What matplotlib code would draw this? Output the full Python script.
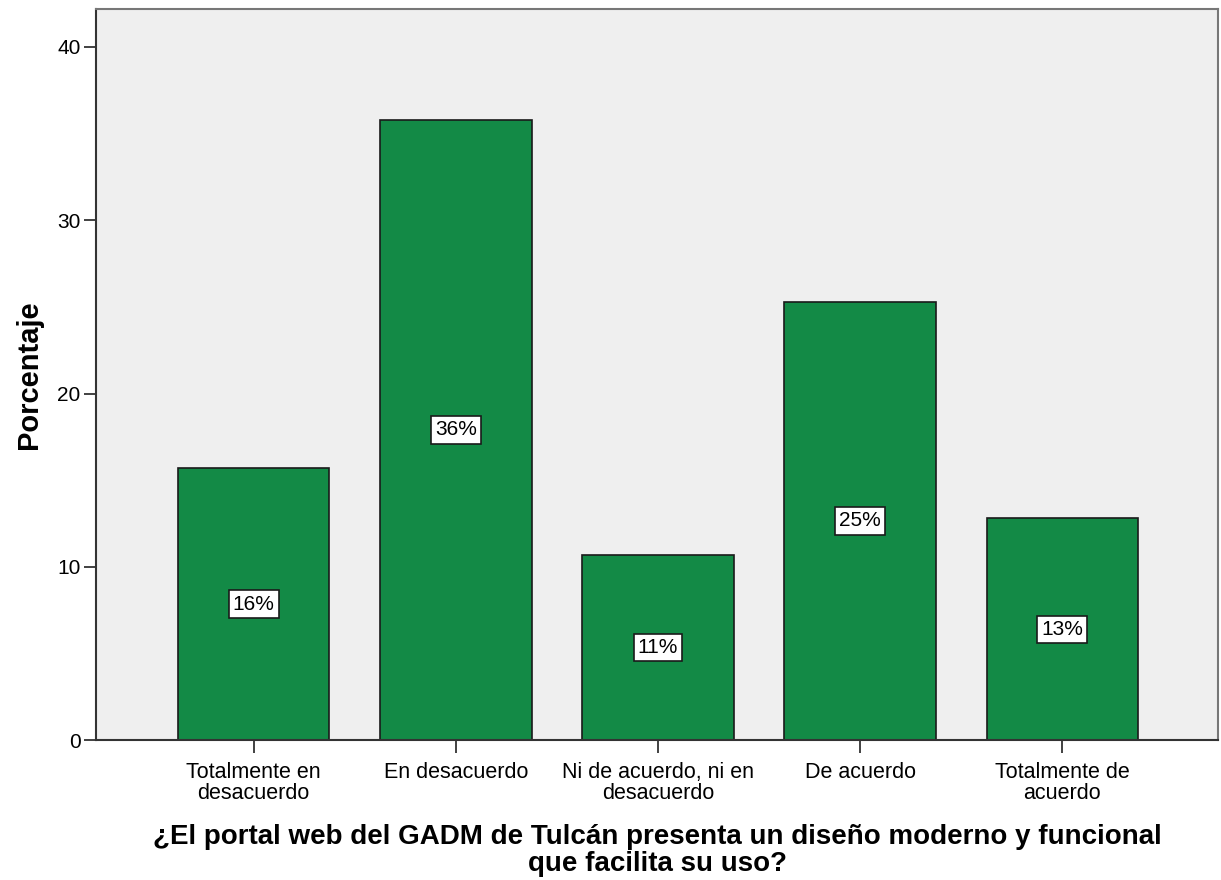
import matplotlib.pyplot as plt

# data
categorias = ['Totalmente en\ndesacuerdo', 'En desacuerdo', 'Ni de acuerdo, ni en\ndesacuerdo',
              'De acuerdo', 'Totalmente de\nacuerdo']
porcentajes = [15.7, 35.8, 10.7, 25.3, 12.8]
etiquetas = ['16%', '36%', '11%', '25%', '13%']
yticks = [0, 10, 20, 30, 40]

plt.rcParams['font.family'] = ['Liberation Sans', 'DejaVu Sans']

fig = plt.figure(figsize=(12.21, 8.8), dpi=100)
ax = fig.add_axes([0.0786, 0.159, 0.919, 0.831])
ax.set_facecolor('#efefef')

x = list(range(len(categorias)))
ax.bar(x, porcentajes, width=0.75, color='#138a46', edgecolor='#1a1a1a', linewidth=1.2, zorder=2)

for xi, v, lab in zip(x, porcentajes, etiquetas):
    ax.text(xi, v / 2, lab, ha='center', va='center', fontsize=15, zorder=3,
            bbox=dict(boxstyle='square,pad=0.2', facecolor='white', edgecolor='#1a1a1a', linewidth=1.2))

ax.set_xlim(-0.78, 4.77)
ax.set_ylim(0, 42.2)
ax.set_yticks(yticks)
ax.set_xticks(x)
ax.set_xticklabels(categorias, fontsize=15.5, linespacing=1.0)
ax.tick_params(axis='y', labelsize=15, length=9, width=1.3, color='#333333', pad=2)
ax.tick_params(axis='x', length=9, width=1.3, color='#333333', pad=7)

for s in ['left', 'bottom']:
    ax.spines[s].set_color('#333333')
    ax.spines[s].set_linewidth(1.5)
for s in ['top', 'right']:
    ax.spines[s].set_color('#777777')
    ax.spines[s].set_linewidth(1.5)

ax.set_ylabel('Porcentaje', fontsize=21, fontweight='bold', labelpad=10)
ax.set_xlabel('¿El portal web del GADM de Tulcán presenta un diseño moderno y funcional\nque facilita su uso?',
              fontsize=20, fontweight='bold', labelpad=14, linespacing=1.05)

plt.savefig('out.png', dpi=100)
